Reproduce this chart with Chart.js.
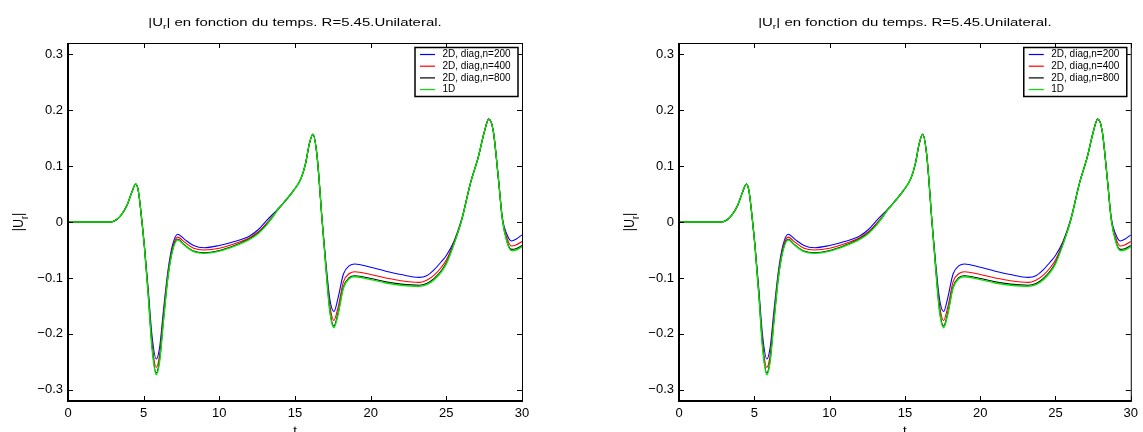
<!DOCTYPE html>
<html>
<head>
<meta charset="utf-8">
<script src="https://cdn.jsdelivr.net/npm/chart.js@4.4.1/dist/chart.umd.min.js"></script>
<style>
  html, body { margin: 0; padding: 0; background: #fff; }
  body { width: 1143px; height: 432px; position: relative; overflow: hidden; }
  canvas { position: absolute; top: 0; }
  #gauche { left: 0; }
  #droite { left: 611px; }
</style>
</head>
<body>
<canvas id="gauche" width="560" height="432"></canvas>
<canvas id="droite" width="532" height="432"></canvas>
<script>
// Temps (abscisses)
const temps = [0, 1, 2, 2.85, 3.2, 3.5, 3.9, 4.2, 4.48, 4.65,
  4.85, 5.05, 5.3, 5.55, 5.83, 6.05, 6.3, 6.6, 6.9, 7.25,
  7.7, 8.3, 9.0, 10, 11, 12, 12.6, 13.1, 13.5, 13.8,
  14.3, 14.9, 15.4, 15.7, 15.95, 16.18, 16.45, 16.8, 17.05, 17.3,
  17.57, 17.85, 18.2, 18.6, 18.95, 20, 21, 22, 23.2, 23.7,
  24.2, 24.7, 25, 25.5, 26, 26.6, 27.1, 27.5, 27.8, 28.1,
  28.45, 28.7, 29.0, 29.3, 29.6, 30];

// 2D, diag, n=200
const ur200 = [0, 0, 0, 0, 0.004, 0.012, 0.030, 0.052, 0.068, 0.055,
  0.010, -0.043, -0.120, -0.203, -0.245, -0.225, -0.160, -0.088, -0.042, -0.022,
  -0.031, -0.042, -0.046, -0.042, -0.035, -0.025, -0.013, 0.002, 0.013, 0.021,
  0.036, 0.056, 0.078, 0.105, 0.140, 0.157, 0.120, 0.000, -0.075, -0.138,
  -0.160, -0.135, -0.093, -0.078, -0.075, -0.081, -0.088, -0.094, -0.099, -0.096,
  -0.085, -0.070, -0.060, -0.035, 0.004, 0.070, 0.115, 0.160, 0.184, 0.163,
  0.075, 0.008, -0.022, -0.034, -0.031, -0.023];

// 2D, diag, n=400
const ur400 = [0, 0, 0, 0, 0.004, 0.012, 0.030, 0.052, 0.068, 0.055,
  0.010, -0.044, -0.125, -0.215, -0.260, -0.238, -0.170, -0.094, -0.047, -0.027,
  -0.036, -0.047, -0.050, -0.047, -0.039, -0.028, -0.017, -0.003, 0.010, 0.020,
  0.036, 0.056, 0.078, 0.105, 0.140, 0.157, 0.120, 0.000, -0.080, -0.148,
  -0.176, -0.152, -0.107, -0.092, -0.089, -0.094, -0.100, -0.105, -0.108, -0.104,
  -0.095, -0.080, -0.068, -0.037, 0.003, 0.070, 0.115, 0.160, 0.184, 0.163,
  0.075, 0.006, -0.028, -0.043, -0.041, -0.035];

// 2D, diag, n=800
const ur800 = [0, 0, 0, 0, 0.004, 0.012, 0.030, 0.052, 0.068, 0.055,
  0.010, -0.045, -0.129, -0.222, -0.270, -0.247, -0.178, -0.099, -0.051, -0.031,
  -0.041, -0.052, -0.055, -0.051, -0.042, -0.030, -0.019, -0.005, 0.008, 0.020,
  0.036, 0.056, 0.078, 0.105, 0.140, 0.157, 0.120, 0.000, -0.084, -0.157,
  -0.186, -0.162, -0.116, -0.099, -0.096, -0.101, -0.107, -0.111, -0.113, -0.110,
  -0.101, -0.086, -0.073, -0.039, 0.002, 0.070, 0.115, 0.160, 0.184, 0.163,
  0.075, 0.005, -0.034, -0.049, -0.048, -0.042];

// 1D
const ur1d = [0, 0, 0, 0, 0.004, 0.012, 0.030, 0.052, 0.068, 0.055,
  0.010, -0.045, -0.130, -0.225, -0.273, -0.250, -0.180, -0.100, -0.052, -0.032,
  -0.042, -0.053, -0.056, -0.052, -0.043, -0.031, -0.020, -0.006, 0.008, 0.020,
  0.036, 0.056, 0.078, 0.105, 0.140, 0.157, 0.120, 0.000, -0.085, -0.160,
  -0.189, -0.165, -0.118, -0.101, -0.098, -0.103, -0.109, -0.113, -0.115, -0.112,
  -0.103, -0.088, -0.075, -0.040, 0.002, 0.070, 0.115, 0.160, 0.184, 0.163,
  0.075, 0.005, -0.035, -0.051, -0.050, -0.044];

const etiquettes = ['2D, diag,n=200', '2D, diag,n=400', '2D, diag,n=800', '1D'];
const couleurs = ['#0000ff', '#ff0000', '#000000', '#00e600'];
const ticksX = [0, 5, 10, 15, 20, 25, 30];
const ticksY = [-0.3, -0.2, -0.1, 0, 0.1, 0.2, 0.3];
const titre = ' en fonction du temps. R=5.45.Unilateral.';

const police = "'Liberation Sans', Arial, sans-serif";

// Ecrit |U_r| avec indice, renvoie la largeur
function ecrireUr(ctx, x, y, taille) {
  ctx.font = taille + 'px ' + police;
  ctx.fillText('|U', x, y);
  let w = ctx.measureText('|U').width;
  ctx.font = (taille * 0.7) + 'px ' + police;
  ctx.fillText('r', x + w, y + taille * 0.3);
  w += ctx.measureText('r').width;
  ctx.font = taille + 'px ' + police;
  ctx.fillText('|', x + w, y);
  return w + ctx.measureText('|').width;
}

function largeurUr(ctx, taille) {
  ctx.font = taille + 'px ' + police;
  let w = ctx.measureText('|U').width + ctx.measureText('|').width;
  ctx.font = (taille * 0.7) + 'px ' + police;
  return w + ctx.measureText('r').width;
}

// Cadre, graduations internes, légende et titres
const cadre = {
  id: 'cadre',
  afterDraw(chart) {
    const { ctx, chartArea: a, scales: { x, y } } = chart;
    ctx.save();
    ctx.strokeStyle = '#000';
    ctx.fillStyle = '#000';

    // graduations
    ctx.lineWidth = 1;
    ctx.beginPath();
    ticksX.forEach(v => {
      const px = Math.round(x.getPixelForValue(v)) + 0.5;
      ctx.moveTo(px, a.bottom); ctx.lineTo(px, a.bottom - 5);
      ctx.moveTo(px, a.top); ctx.lineTo(px, a.top + 5);
    });
    ticksY.forEach(v => {
      const py = Math.round(y.getPixelForValue(v)) + 0.5;
      ctx.moveTo(a.left, py); ctx.lineTo(a.left + 5, py);
      ctx.moveTo(a.right, py); ctx.lineTo(a.right - 5, py);
    });
    ctx.stroke();

    // cadre
    ctx.beginPath();
    ctx.moveTo(a.left, a.top + 0.5); ctx.lineTo(a.right + 0.5, a.top + 0.5);
    ctx.lineTo(a.right + 0.5, a.bottom);
    ctx.stroke();
    ctx.lineWidth = 2;
    ctx.beginPath();
    ctx.moveTo(a.left, a.top); ctx.lineTo(a.left, a.bottom);
    ctx.lineTo(a.right + 1, a.bottom);
    ctx.stroke();

    // légende
    const lw = 103, lh = 49;
    const lx = a.right - 4 - lw, ly = a.top + 4.5;
    ctx.fillStyle = '#fff';
    ctx.fillRect(lx, ly, lw, lh);
    ctx.lineWidth = 1.5;
    ctx.strokeStyle = '#000';
    ctx.strokeRect(lx, ly, lw, lh);
    ctx.font = '10px ' + police;
    ctx.textBaseline = 'middle';
    chart.data.datasets.forEach((d, i) => {
      const yy = ly + 7 + i * 11.7;
      ctx.strokeStyle = d.borderColor;
      ctx.lineWidth = 1.2;
      ctx.beginPath();
      ctx.moveTo(lx + 5, yy); ctx.lineTo(lx + 20, yy);
      ctx.stroke();
      ctx.fillStyle = '#000';
      ctx.fillText(d.label, lx + 27.5, yy);
    });

    // titre (légèrement étiré en largeur comme l'original)
    ctx.fillStyle = '#000';
    ctx.textBaseline = 'alphabetic';
    const tt = 11.5, sx = 1.3;
    const wu = largeurUr(ctx, tt);
    ctx.font = tt + 'px ' + police;
    const wt = wu + ctx.measureText(titre).width;
    const cx = (a.left + a.right) / 2;
    ctx.save();
    ctx.translate(cx - wt * sx / 2, 25.7);
    ctx.scale(sx, 1);
    const w0 = ecrireUr(ctx, 0, 0, tt);
    ctx.font = tt + 'px ' + police;
    ctx.fillText(titre, w0, 0);
    ctx.restore();

    // titre axe y
    ctx.save();
    ctx.translate(23, (a.top + a.bottom) / 2);
    ctx.rotate(-Math.PI / 2);
    ctx.scale(1, 1.2);
    const wy = largeurUr(ctx, 12.5);
    ecrireUr(ctx, -wy / 2, 0, 12.5);
    ctx.restore();

    // titre axe x
    ctx.font = '11px ' + police;
    ctx.textAlign = 'center';
    ctx.textBaseline = 'top';
    ctx.save();
    ctx.translate(cx, 425);
    ctx.scale(1.2, 1);
    ctx.fillText('t', 0, 0);
    ctx.restore();
    ctx.restore();
  }
};

function construire(id, padDroite) {
  const series = [ur200, ur400, ur800, ur1d];
  new Chart(document.getElementById(id), {
    type: 'line',
    data: {
      datasets: series.map((s, i) => ({
        label: etiquettes[i],
        data: temps.map((t, k) => ({ x: t, y: s[k] })),
        borderColor: couleurs[i],
        borderWidth: i === 3 ? 1.4 : 1.1,
        pointRadius: 0,
        fill: false,
        cubicInterpolationMode: 'monotone',
        order: 3 - i
      }))
    },
    options: {
      responsive: false,
      animation: false,
      devicePixelRatio: 1,
      layout: { padding: { top: 43, right: padDroite, left: 0, bottom: 0 } },
      plugins: {
        legend: { display: false },
        title: { display: false },
        tooltip: { enabled: false }
      },
      scales: {
        x: {
          type: 'linear',
          min: 0,
          max: 30,
          grid: { display: false, drawTicks: false },
          border: { display: false },
          afterBuildTicks: s => { s.ticks = ticksX.map(v => ({ value: v })); },
          afterFit: s => { s.height = 31; },
          ticks: {
            padding: 5,
            maxRotation: 0,
            color: '#000',
            font: { family: police, size: 13 },
            callback: v => String(v)
          }
        },
        y: {
          type: 'linear',
          min: -0.32,
          max: 0.32,
          grid: { display: false, drawTicks: false },
          border: { display: false },
          afterBuildTicks: s => { s.ticks = ticksY.map(v => ({ value: v })); },
          afterFit: s => { s.width = 68; },
          ticks: {
            padding: 5,
            color: '#000',
            font: { family: police, size: 13 },
            callback: v => {
              const r = Math.round(v * 10) / 10;
              if (r === 0) return '0';
              return (r < 0 ? '\u2212' : '') + Math.abs(r).toFixed(1);
            }
          }
        }
      }
    },
    plugins: [cadre]
  });
}

construire('gauche', 38);
construire('droite', 10);
</script>
</body>
</html>
